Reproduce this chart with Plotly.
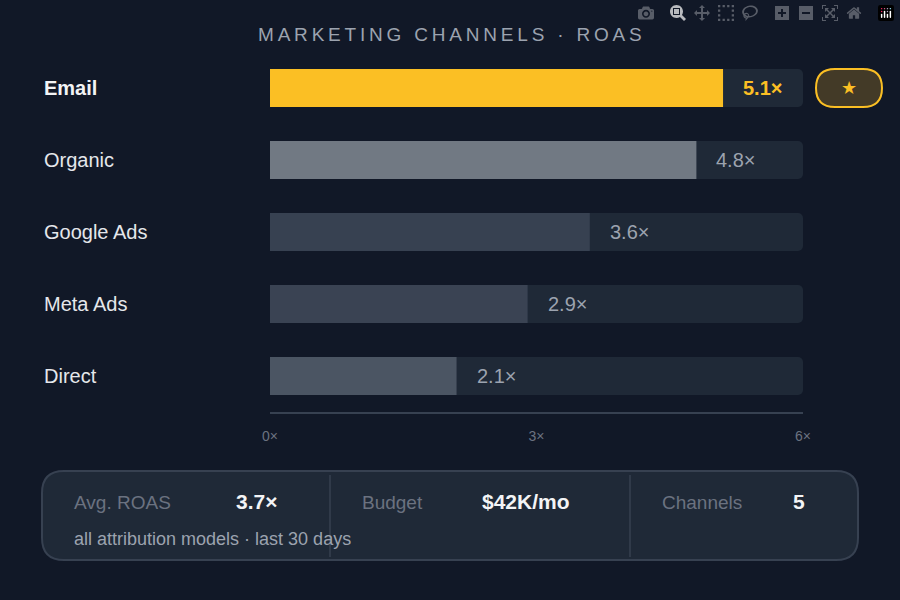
import plotly.graph_objects as go

channels = ["Email", "Organic", "Google Ads", "Meta Ads", "Direct"]
roas = [5.1, 4.8, 3.6, 2.9, 2.1]
bar_colors = ["#fbbf24", "#717983", "#374151", "#3a4353", "#4b5563"]
tick_vals = [0, 3, 6]
x_max = 6
title = "MARKETING CHANNELS · ROAS"

BG = "#111827"
TRACK = "#1f2937"
FONT = "Liberation Sans, Arial, sans-serif"

# pixel -> paper helpers (plot area: x 270..803, y 52..412)
def px(x):
    return (x - 270) / 533

def py(y):
    return (412 - y) / 360

def rrect(x0, y0, x1, y1, r):
    # rounded rect path in paper coords, input in pixels
    pts = [
        f"M{px(x0 + r)},{py(y0)}", f"L{px(x1 - r)},{py(y0)}",
        f"Q{px(x1)},{py(y0)} {px(x1)},{py(y0 + r)}", f"L{px(x1)},{py(y1 - r)}",
        f"Q{px(x1)},{py(y1)} {px(x1 - r)},{py(y1)}", f"L{px(x0 + r)},{py(y1)}",
        f"Q{px(x0)},{py(y1)} {px(x0)},{py(y1 - r)}", f"L{px(x0)},{py(y0 + r)}",
        f"Q{px(x0)},{py(y0)} {px(x0 + r)},{py(y0)}", "Z",
    ]
    return " ".join(pts)

fig = go.Figure()
fig.add_trace(go.Bar(x=[x_max] * len(channels), y=channels, orientation="h",
                     marker=dict(color=TRACK, line=dict(width=0), cornerradius=5), width=0.53,
                     hoverinfo="skip"))
fig.add_trace(go.Bar(x=roas, y=channels, orientation="h",
                     marker=dict(color=bar_colors, line=dict(width=0), cornerradius=5), width=0.53))

ann = []
for i, (c, v) in enumerate(zip(channels, roas)):
    top = i == 0
    ann.append(dict(x=v, y=c, xref="x", yref="y", text=f"<b>{v}×</b>" if top else f"{v}×",
                    showarrow=False, xanchor="left", xshift=18,
                    font=dict(size=20, color="#fbbf24" if top else "#9ca3af", family=FONT)))
    ann.append(dict(x=px(42), y=c, xref="paper", yref="y", text=f"<b>{c}</b>" if top else c,
                    showarrow=False, xanchor="left",
                    font=dict(size=20, color="#f3f4f6" if top else "#e5e7eb", family=FONT)))

def txt(x, y, t, size, color, bold=False, anchor="left"):
    ann.append(dict(x=px(x), y=py(y), xref="paper", yref="paper",
                    text=f"<b>{t}</b>" if bold else t, showarrow=False,
                    xanchor=anchor, yanchor="middle", font=dict(size=size, color=color, family=FONT)))

txt(450, 35, "\u2009".join(title), 19, "#9ca3af", anchor="center")
txt(849, 88, "★", 18, "#fbbf24", anchor="center")
txt(72, 502, "Avg. ROAS", 19, "#6b7280")
txt(234, 501, "3.7×", 21, "#f3f4f6", bold=True)
txt(360, 502, "Budget", 19, "#6b7280")
txt(480, 501, "$42K/mo", 21, "#f3f4f6", bold=True)
txt(660, 502, "Channels", 19, "#6b7280")
txt(791, 501, "5", 21, "#f3f4f6", bold=True)
txt(72, 539, "all attribution models · last 30 days", 18, "#9ca3af")

shapes = [
    dict(type="path", xref="paper", yref="paper", path=rrect(816, 69, 882, 107, 19),
         fillcolor="#433a27", line=dict(color="#fbbf24", width=2)),
    dict(type="path", xref="paper", yref="paper", path=rrect(42, 471, 858, 560, 22),
         fillcolor="#1f2937", line=dict(color="#374151", width=2), layer="below"),
    dict(type="line", xref="paper", yref="paper", x0=px(330), x1=px(330), y0=py(475), y1=py(557),
         line=dict(color="#374151", width=1.5)),
    dict(type="line", xref="paper", yref="paper", x0=px(630), x1=px(630), y0=py(475), y1=py(557),
         line=dict(color="#374151", width=1.5)),
]

fig.update_layout(
    width=900, height=600, paper_bgcolor=BG, plot_bgcolor=BG,
    margin=dict(l=270, r=97, t=52, b=188), barmode="overlay",
    showlegend=False, annotations=ann, shapes=shapes,
    xaxis=dict(range=[0, x_max], tickvals=tick_vals, ticktext=[f"{t}×" for t in tick_vals],
               showgrid=False, zeroline=False, showline=True, linecolor="#374151", linewidth=2,
               tickfont=dict(size=14, color="#6b7280", family=FONT), ticks="", ticklabelstandoff=10),
    yaxis=dict(autorange="reversed", showticklabels=False, showgrid=False, zeroline=False),
)
fig.write_html("out.html",
               post_script="document.body.style.margin='0';document.body.style.background='#111827';")
